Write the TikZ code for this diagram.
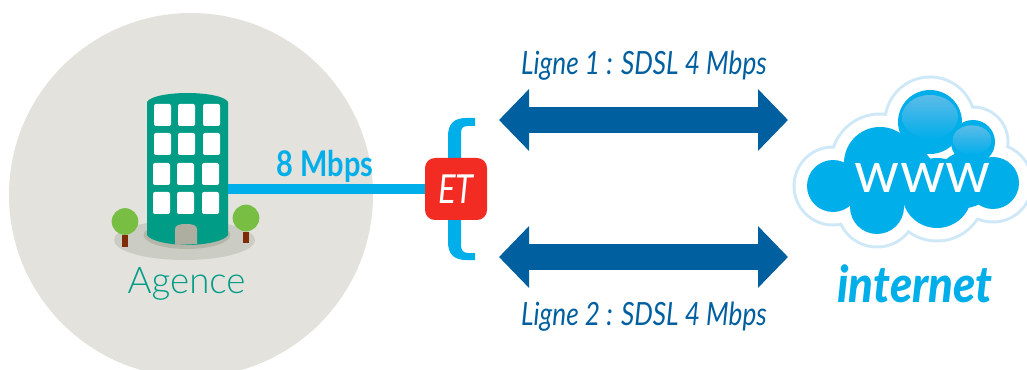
\documentclass[tikz,border=0pt]{standalone}
\usepackage{fontspec}
\usetikzlibrary{arrows.meta}
\setmainfont{Lato}
\newfontfamily\condfont[FakeStretch=0.82]{Lato}
\newfontfamily\inetfont[FakeStretch=0.9]{Lato Black}
\newfontfamily\lightfont{Lato Light}
\definecolor{disc}{HTML}{E3E2DD}
\definecolor{teal}{HTML}{009C85}
\definecolor{cyanb}{HTML}{00AEEA}
\definecolor{navy}{HTML}{005F9F}
\definecolor{ground}{HTML}{CBCDC5}
\definecolor{groundd}{HTML}{B5B6AA}
\definecolor{door}{HTML}{ADADA0}
\definecolor{leaf}{HTML}{78BE43}
\definecolor{trunk}{HTML}{7F2B08}
\definecolor{etred}{HTML}{F22C22}
\definecolor{halo}{HTML}{CFE8F8}
\definecolor{shine}{HTML}{5CBBE8}
\tikzset{
  x=0.75pt,y=-0.75pt,
  window/.style={fill=white,rounded corners=1.5pt},
  dbl/.style={navy,line width=19.5pt,{Triangle[length=22.5pt,width=45pt]}-{Triangle[length=22.5pt,width=45pt]}},
  linelabel/.style={text=navy,font=\condfont\itshape\fontsize{24}{26}\selectfont,anchor=base},
  link/.style={cyanb,line width=7.5pt},
  etbox/.style={fill=etred,rounded corners=7.5pt,minimum width=46.5pt,minimum height=46.5pt,inner sep=0pt,text=white,font=\condfont\itshape\fontsize{30}{32}\selectfont}
}
\newcommand{\cloudcircles}[2]{%
  \fill[#1] (833,186) circle ({(26+#2)*0.75pt});
  \fill[#1] (880,163) circle ({(36+#2)*0.75pt});
  \fill[#1] (930,122) circle ({(32+#2)*0.75pt});
  \fill[#1] (973,142) circle ({(22+#2)*0.75pt});
  \fill[#1] (993,183) circle ({(26+#2)*0.75pt});
  \fill[#1] (877,207) circle ({(27+#2)*0.75pt});
  \fill[#1] (937,193) circle ({(35+#2)*0.75pt});
  \fill[#1] (905,175) circle ({(30+#2)*0.75pt});
  \fill[#1] (965,180) circle ({(28+#2)*0.75pt});
}
\begin{document}
\begin{tikzpicture}
\useasboundingbox (0,0) rectangle (1027,370);
\clip (0,0) rectangle (1027,370);
% disc
\fill[disc] (191,195) circle (136.5pt);
% ground
\fill[ground] (184.5,240) ellipse (52.9pt and 15pt);
\fill[groundd] (187,235) ellipse (32.5pt and 10.5pt);
% trees
\fill[trunk] (122,235) rectangle (128,247);
\fill[leaf] (125,221.5) circle (10pt);
\fill[trunk] (243,232) rectangle (249,243);
\fill[leaf] (246,218) circle (10pt);
% building
\fill[teal] (147,102) .. controls (150,96) and (170,93) .. (187.5,93) .. controls (205,93) and (225,96) .. (228,102)
  -- (228,235) .. controls (225,241) and (205,245) .. (187.5,245) .. controls (170,245) and (150,241) .. (147,235) -- cycle;
\foreach \cx/\cy in {154/104,178/104,203/104,154/133,178/133,203/133,153/163,177/163,202/163,153/192,177/192,202/192}
  \fill[window] (\cx,\cy) rectangle ++(17,22);
\fill[door] (175,245) -- (175,229) .. controls (175,225) and (180,224) .. (186,224) .. controls (192,224) and (197,225) .. (197,229) -- (197,244) -- cycle;
\coordinate (bldE) at (228,189);
\node[text=teal,font=\lightfont\fontsize{27.5}{30}\selectfont,anchor=base] (agence) at (186.5,293) {Agence};
% bracket
\fill[cyanb] (475,118) -- (466,118) .. controls (454,118) and (448,124) .. (448,136) -- (448,242) .. controls (448,254) and (454,260) .. (466,260) -- (475,260) -- (475,253) -- (468,253) .. controls (463,253) and (461,250) .. (461,245) -- (461,133) .. controls (461,128) and (463,126) .. (468,126) -- (475,126) -- cycle;
% ET and link
\node[etbox] (et) at (456,189) {ET};
\draw[link] (bldE) -- (et.west);
\node[text=cyanb,font=\condfont\bfseries\fontsize{26.5}{28}\selectfont,anchor=base] (speed) at (325,177) {8 Mbps};
% arrows
\coordinate (a1l) at (499,120);
\coordinate (a1r) at (788,120);
\coordinate (a2l) at (499,257);
\coordinate (a2r) at (788,257);
\draw[dbl] (a1l) -- (a1r);
\draw[dbl] (a2l) -- (a2r);
\node[linelabel] (l1) at (644,75) {Ligne 1 : SDSL 4 Mbps};
\node[linelabel] (l2) at (644,325) {Ligne 2 : SDSL 4 Mbps};
% cloud
\cloudcircles{halo}{14.5}
\cloudcircles{white}{11.5}
\cloudcircles{cyanb}{0}
\shade[top color=shine,bottom color=cyanb] (930,117) ellipse (21pt and 16.5pt);
\shade[top color=shine,bottom color=cyanb] (972,140) ellipse (14.5pt and 11pt);
\node[text=white,font=\fontsize{43}{45}\selectfont,anchor=base] (www) at (922.5,193) {www};
\node[text=cyanb,font=\inetfont\itshape\fontsize{38}{40}\selectfont,anchor=base] (inet) at (915,302) {internet};
\end{tikzpicture}
\end{document}
